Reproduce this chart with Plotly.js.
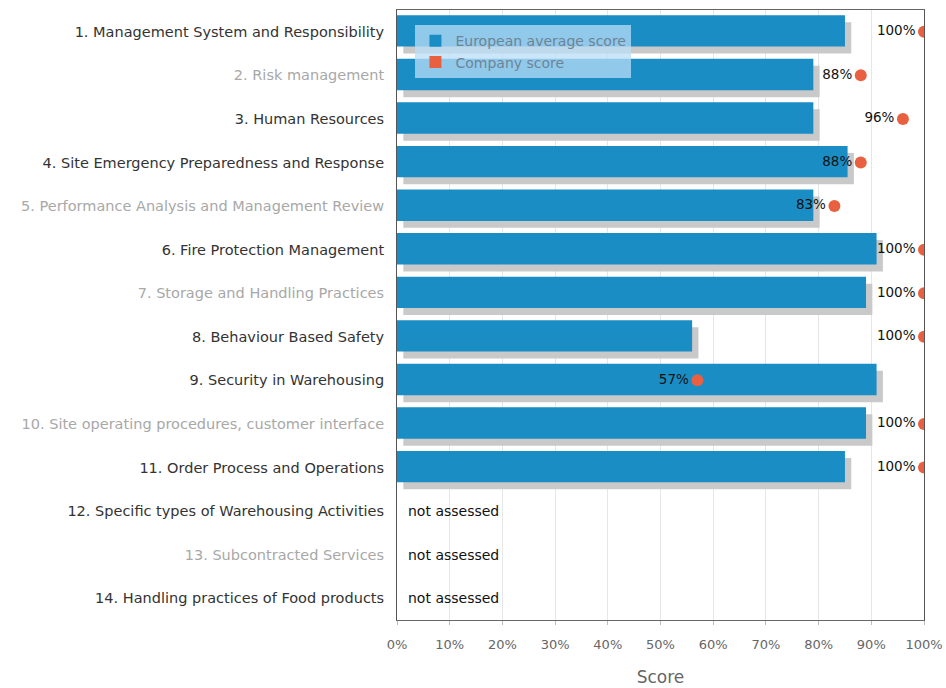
<!DOCTYPE html>
<html>
<head>
<meta charset="utf-8">
<script src="https://cdn.plot.ly/plotly-3.0.1.min.js"></script>
<style>
html,body{margin:0;padding:0;background:#fff;}
#chart{width:946px;height:688px;}
</style>
</head>
<body>
<div id="chart"></div>
<script>
// ---- data ----
const categories = [
  "1. Management System and Responsibility",
  "2. Risk management",
  "3. Human Resources",
  "4. Site Emergency Preparedness and Response",
  "5. Performance Analysis and Management Review",
  "6. Fire Protection Management",
  "7. Storage and Handling Practices",
  "8. Behaviour Based Safety",
  "9. Security in Warehousing",
  "10. Site operating procedures, customer interface",
  "11. Order Process and Operations",
  "12. Specific types of Warehousing Activities",
  "13. Subcontracted Services",
  "14. Handling practices of Food products"
];
const europeanAverage = [85, 79, 79, 85.5, 79, 91, 89, 56, 91, 89, 85, null, null, null];
const companyScore = [100, 88, 96, 88, 83, 100, 100, 100, 57, 100, 100, null, null, null];
const notes = ["", "", "", "", "", "", "", "", "", "", "", "not assessed", "not assessed", "not assessed"];
const xTickValues = [0, 10, 20, 30, 40, 50, 60, 70, 80, 90, 100];
const xTickLabels = ["0%", "10%", "20%", "30%", "40%", "50%", "60%", "70%", "80%", "90%", "100%"];
const fadedRows = [1, 4, 6, 9, 12];

// ---- styling ----
const BLUE = "#1a8dc5";
const RED = "#e8603f";
const FONT = "DejaVu Sans, sans-serif";

const tickText = categories.map((c, i) =>
  fadedRows.includes(i) ? '<span style="fill:#a8a8a8">' + c + '</span>' : c);

const shadow = {
  type: "bar", orientation: "h",
  y: categories, x: europeanAverage, base: 1.2,
  width: 0.72, offset: -0.22,
  marker: { color: "#c9c9c9", line: { width: 0 } },
  hoverinfo: "skip", showlegend: false
};

const euTrace = {
  type: "bar", orientation: "h", name: "European average score",
  y: categories, x: europeanAverage,
  width: 0.72, offset: -0.38,
  marker: { color: BLUE, line: { width: 0 } }
};

const companyLegend = {
  type: "bar", orientation: "h", name: "Company score",
  y: [categories[0]], x: [null],
  marker: { color: RED }
};

const companyTrace = {
  type: "scatter", mode: "markers+text", name: "Company score",
  y: categories, x: companyScore,
  text: companyScore.map(v => v === null ? "" : v + "%"),
  textposition: "middle left",
  textfont: { family: FONT, size: 13.5, color: "#111" },
  marker: { color: RED, size: 12 },
  showlegend: false
};

const noteAnnotations = notes.map((n, i) => n ? {
  xref: "x", yref: "y", x: 0, y: categories[i],
  text: n, showarrow: false, xanchor: "left", xshift: 9,
  font: { family: FONT, size: 14, color: "#111" }
} : null).filter(a => a);

const layout = {
  width: 946, height: 688,
  margin: { l: 397, r: 22, t: 10, b: 68 },
  paper_bgcolor: "#fff", plot_bgcolor: "#fff",
  barmode: "overlay",
  showlegend: true,
  legend: {
    x: 0.035, y: 0.975, xanchor: "left", yanchor: "top",
    bgcolor: "rgba(185,222,245,0.75)",
    font: { family: FONT, size: 14, color: "#6d8496" },
    itemwidth: 30, tracegroupgap: 0
  },
  font: { family: FONT, color: "#333" },
  annotations: noteAnnotations,
  xaxis: {
    range: [0, 100], tickvals: xTickValues, ticktext: xTickLabels,
    showgrid: true, gridcolor: "#e6e6e6", gridwidth: 1,
    zeroline: false, showline: true, linecolor: "#666", linewidth: 1, mirror: true,
    ticks: "outside", ticklen: 4, tickcolor: "#bbb", ticklabelstandoff: 8,
    tickfont: { family: FONT, size: 13, color: "#666" },
    title: { text: "Score", font: { family: FONT, size: 17, color: "#666" }, standoff: 20 }
  },
  yaxis: {
    type: "category", categoryorder: "array", categoryarray: categories,
    tickvals: categories, ticktext: tickText,
    range: [13.5, -0.5],
    showgrid: false, zeroline: false,
    showline: true, linecolor: "#555", linewidth: 1, mirror: true,
    ticks: "", ticklabelstandoff: 9,
    tickfont: { family: FONT, size: 14.5, color: "#333" }
  }
};

Plotly.newPlot("chart", [shadow, euTrace, companyLegend, companyTrace], layout,
  { displayModeBar: false, staticPlot: true });
</script>
</body>
</html>
